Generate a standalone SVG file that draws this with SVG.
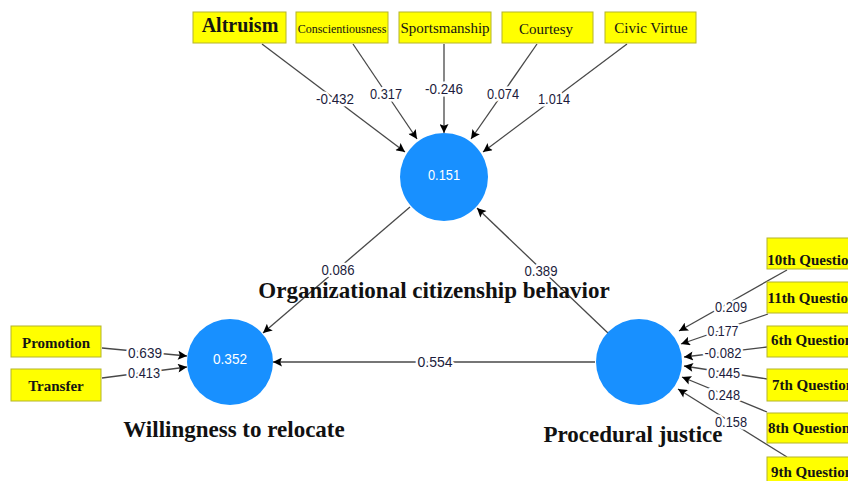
<svg xmlns="http://www.w3.org/2000/svg" width="848" height="481" viewBox="0 0 848 481">
  <style>
    .ind rect { fill: #ffff00; stroke: #b4b42a; stroke-width: 1; }
    .ind text { font-family: "Liberation Serif", "Times New Roman", serif; fill: #141414; text-anchor: middle; }
    .q text { font-weight: bold; font-size: 15px; }
    .lv circle { fill: #1890ff; }
    .lv .r2 { font-family: "Liberation Sans", Arial, sans-serif; font-size: 15px; fill: #ffffff; text-anchor: middle; }
    .title { font-family: "Liberation Serif", "Times New Roman", serif; font-weight: bold; font-size: 23px; fill: #111111; }
    .edge line { stroke: #484848; stroke-width: 1.3; fill: none; }
    .arr { marker-end: url(#tip); }
    .w { font-family: "Liberation Sans", Arial, sans-serif; font-size: 15px; fill: #1c1c3c; text-anchor: middle;
         stroke: #ffffff; stroke-width: 5px; stroke-linejoin: round; paint-order: stroke fill; }
  </style>
  <defs>
    <marker id="tip" viewBox="0 0 10 10" refX="10" refY="5" markerWidth="10" markerHeight="9" markerUnits="userSpaceOnUse" orient="auto">
      <path d="M0,0 L10,5 L0,10 L2,5 z" fill="#000000"/>
    </marker>
  </defs>

  <!-- connectors -->
  <g id="connectors" class="edge">
    <!-- OCB dimensions to OCB -->
    <line class="arr" x1="262" y1="44" x2="405" y2="152"/>
    <line class="arr" x1="353" y1="44" x2="417" y2="139"/>
    <line class="arr" x1="444" y1="44" x2="444" y2="133"/>
    <line class="arr" x1="537" y1="44" x2="471" y2="139"/>
    <line class="arr" x1="627" y1="44" x2="483" y2="152"/>
    <!-- structural paths -->
    <line class="arr" x1="410" y1="207" x2="263" y2="333"/>
    <line class="arr" x1="609" y1="334" x2="477" y2="208"/>
    <line class="arr" x1="595" y1="362" x2="273" y2="362"/>
    <!-- relocation indicators -->
    <line class="arr" x1="102" y1="348" x2="187" y2="356"/>
    <line class="arr" x1="102" y1="378" x2="187" y2="367"/>
    <!-- procedural justice indicators -->
    <line class="arr" x1="787" y1="270" x2="679" y2="331"/>
    <line class="arr" x1="768" y1="314" x2="681" y2="344"/>
    <line class="arr" x1="767" y1="347" x2="684" y2="357"/>
    <line class="arr" x1="767" y1="379" x2="684" y2="366"/>
    <line class="arr" x1="767" y1="412" x2="682" y2="377"/>
    <line class="arr" x1="787" y1="457" x2="678" y2="389"/>

    <!-- path coefficients -->
    <text class="w" x="335" y="104" textLength="38" lengthAdjust="spacingAndGlyphs">-0.432</text>
    <text class="w" x="386" y="99" textLength="32" lengthAdjust="spacingAndGlyphs">0.317</text>
    <text class="w" x="444" y="94" textLength="38" lengthAdjust="spacingAndGlyphs">-0.246</text>
    <text class="w" x="503" y="99" textLength="32" lengthAdjust="spacingAndGlyphs">0.074</text>
    <text class="w" x="554" y="104" textLength="32" lengthAdjust="spacingAndGlyphs">1.014</text>
    <text class="w" x="338" y="275" textLength="33" lengthAdjust="spacingAndGlyphs">0.086</text>
    <text class="w" x="541" y="276" textLength="33" lengthAdjust="spacingAndGlyphs">0.389</text>
    <text class="w" x="435" y="367" textLength="35" lengthAdjust="spacingAndGlyphs">0.554</text>
    <text class="w" x="145" y="358" textLength="34" lengthAdjust="spacingAndGlyphs">0.639</text>
    <text class="w" x="144" y="378" textLength="32" lengthAdjust="spacingAndGlyphs">0.413</text>
    <text class="w" x="731" y="312" textLength="32" lengthAdjust="spacingAndGlyphs">0.209</text>
    <text class="w" x="723" y="336" textLength="31" lengthAdjust="spacingAndGlyphs">0.177</text>
    <text class="w" x="723" y="358" textLength="37" lengthAdjust="spacingAndGlyphs">-0.082</text>
    <text class="w" x="724" y="378" textLength="32" lengthAdjust="spacingAndGlyphs">0.445</text>
    <text class="w" x="724" y="400" textLength="32" lengthAdjust="spacingAndGlyphs">0.248</text>
    <text class="w" x="731" y="427" textLength="32" lengthAdjust="spacingAndGlyphs">0.158</text>
  </g>

  <!-- latent variables -->
  <g id="ocb" class="lv">
    <circle cx="444" cy="177" r="44"/>
    <text class="r2" x="444" y="180" textLength="32" lengthAdjust="spacingAndGlyphs">0.151</text>
    <text class="title" x="434" y="298" text-anchor="middle">Organizational citizenship behavior</text>
  </g>
  <g id="wtr" class="lv">
    <circle cx="230" cy="362" r="43"/>
    <text class="r2" x="230" y="364" textLength="34" lengthAdjust="spacingAndGlyphs">0.352</text>
    <text class="title" x="234" y="437" text-anchor="middle">Willingness to relocate</text>
  </g>
  <g id="pj" class="lv">
    <circle cx="639" cy="362" r="43"/>
    <text class="title" x="633" y="442" text-anchor="middle">Procedural justice</text>
  </g>

  <!-- OCB dimension indicators -->
  <g id="altruism" class="ind">
    <rect x="193" y="12" width="93" height="31"/>
    <text x="240" y="32" font-size="20" font-weight="bold">Altruism</text>
  </g>
  <g id="conscientiousness" class="ind">
    <rect x="296" y="12" width="92" height="31"/>
    <text x="342" y="33" font-size="12">Conscientiousness</text>
  </g>
  <g id="sportsmanship" class="ind">
    <rect x="399" y="12" width="92" height="31"/>
    <text x="445" y="33" font-size="15">Sportsmanship</text>
  </g>
  <g id="courtesy" class="ind">
    <rect x="502" y="12" width="91" height="31"/>
    <text x="546" y="34" font-size="15">Courtesy</text>
  </g>
  <g id="civic-virtue" class="ind">
    <rect x="605" y="12" width="91" height="31"/>
    <text x="651" y="33" font-size="15">Civic Virtue</text>
  </g>

  <!-- relocation indicators -->
  <g id="promotion" class="ind">
    <rect x="11" y="326" width="90" height="31"/>
    <text x="56" y="348" font-size="15" font-weight="bold">Promotion</text>
  </g>
  <g id="transfer" class="ind">
    <rect x="11" y="369" width="90" height="32"/>
    <text x="56" y="391" font-size="15" font-weight="bold">Transfer</text>
  </g>

  <!-- procedural justice indicators -->
  <g id="q10" class="ind q">
    <rect x="767" y="238" width="92" height="31"/>
    <text x="812" y="265">10th Question</text>
  </g>
  <g id="q11" class="ind q">
    <rect x="767" y="282" width="92" height="31"/>
    <text x="812" y="303">11th Question</text>
  </g>
  <g id="q6" class="ind q">
    <rect x="767" y="326" width="92" height="31"/>
    <text x="812" y="345">6th Question</text>
  </g>
  <g id="q7" class="ind q">
    <rect x="767" y="369" width="92" height="32"/>
    <text x="813" y="390">7th Question</text>
  </g>
  <g id="q8" class="ind q">
    <rect x="767" y="413" width="92" height="30"/>
    <text x="809" y="433">8th Question</text>
  </g>
  <g id="q9" class="ind q">
    <rect x="767" y="457" width="92" height="31"/>
    <text x="812" y="477">9th Question</text>
  </g>
</svg>
